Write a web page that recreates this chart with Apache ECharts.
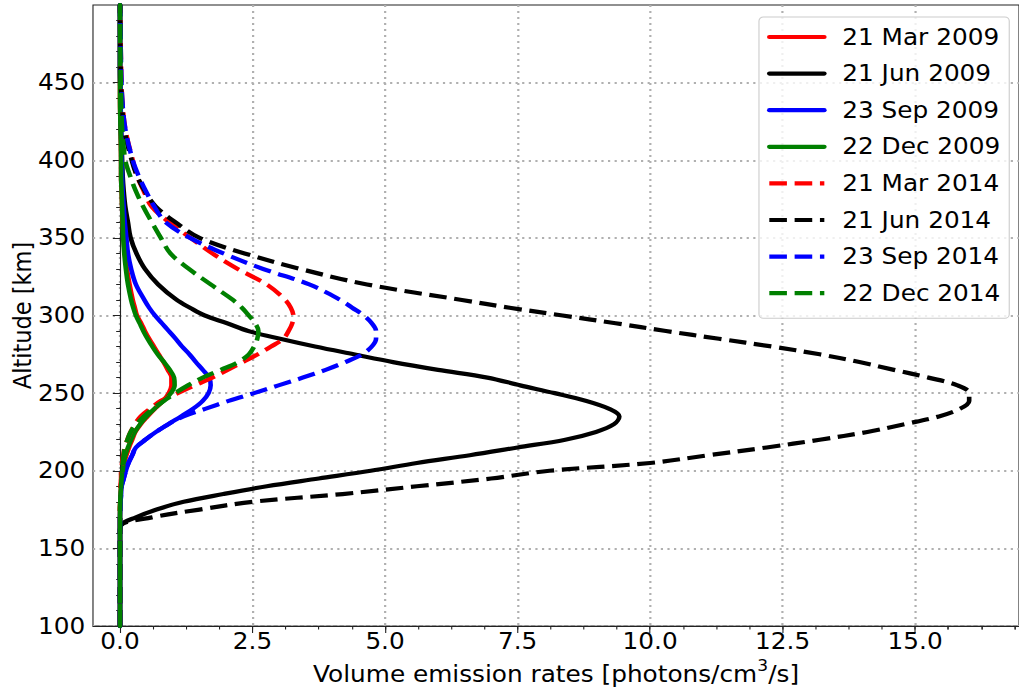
<!DOCTYPE html>
<html><head><meta charset="utf-8">
<script src="https://cdn.jsdelivr.net/npm/echarts@6/dist/echarts.min.js"></script>
<style>
html,body{margin:0;padding:0;background:#fff;overflow:hidden}
#c{width:926px;height:693px;transform:scaleX(1.10043);transform-origin:0 0}
</style>
</head><body><div id="c"></div>
<script>
// Altitude grid [km]
const ALT = [100,160,165,170,175,180,185,190,195,200,205,210,215,220,225,230,235,240,245,250,255,260,265,270,275,280,285,290,295,300,305,310,320,330,340,350,360,370,380,390,400,420,440,460,500];

// Volume emission rates [photons/cm3/s] at each altitude
const MAR09 = [0,0,0,0,0,0.005,0.01,0.02,0.03,0.06,0.08,0.12,0.17,0.23,0.29,0.39,0.52,0.66,0.81,0.92,0.97,0.97,0.9,0.82,0.73,0.64,0.55,0.47,0.4,0.32,0.28,0.24,0.18,0.13,0.09,0.07,0.05,0.04,0.03,0.02,0.02,0.01,0,0,0];
const JUN09 = [0,0,0.02,0.3,0.69,1.2,1.95,2.77,3.75,4.73,5.6,6.6,7.5,8.4,8.98,9.32,9.42,9.22,8.8,8.2,7.55,6.93,6.0,5.15,4.41,3.68,3.02,2.42,2.02,1.6,1.32,1.07,0.72,0.47,0.31,0.2,0.15,0.1,0.07,0.05,0.04,0.02,0.01,0,0];
const SEP09 = [0,0,0,0,0.005,0.01,0.02,0.03,0.07,0.11,0.16,0.23,0.3,0.48,0.68,0.91,1.15,1.38,1.56,1.67,1.71,1.68,1.56,1.43,1.31,1.17,1.05,0.92,0.79,0.66,0.55,0.46,0.3,0.21,0.15,0.12,0.09,0.07,0.05,0.04,0.03,0.02,0.01,0,0];
const DEC09 = [0,0,0,0,0,0.005,0.01,0.02,0.03,0.05,0.07,0.1,0.15,0.21,0.28,0.38,0.5,0.65,0.82,0.96,1.03,1.02,0.94,0.83,0.71,0.61,0.52,0.44,0.37,0.3,0.25,0.21,0.15,0.11,0.08,0.06,0.05,0.04,0.03,0.02,0.02,0.01,0,0,0];
const MAR14 = [0,0,0,0,0,0.005,0.01,0.01,0.02,0.02,0.04,0.06,0.09,0.14,0.2,0.28,0.39,0.57,0.77,1.09,1.41,1.74,2.03,2.32,2.6,2.85,3.08,3.18,3.25,3.27,3.22,3.12,2.77,2.22,1.74,1.33,0.93,0.6,0.45,0.32,0.24,0.1,0.04,0.02,0];
const JUN14 = [0,0,0.02,0.6,1.5,2.5,4.2,5.6,7.0,8.1,10.0,11.1,12.2,13.2,14.1,14.8,15.45,15.85,16.02,16.02,15.8,15.25,14.6,13.95,13.2,12.3,11.3,10.3,9.35,8.35,7.35,6.45,4.66,3.4,2.35,1.5,1.05,0.68,0.47,0.32,0.22,0.08,0.03,0.01,0];
const SEP14 = [0,0,0,0,0.005,0.01,0.02,0.03,0.07,0.11,0.16,0.23,0.3,0.48,0.68,0.91,1.2,1.62,2.05,2.53,2.99,3.45,3.88,4.25,4.57,4.75,4.83,4.83,4.75,4.6,4.38,4.16,3.57,2.7,1.95,1.32,0.86,0.65,0.49,0.35,0.24,0.1,0.04,0.02,0];
const DEC14 = [0,0,0,0,0,0.005,0.01,0.02,0.03,0.04,0.05,0.07,0.09,0.14,0.2,0.31,0.45,0.62,0.83,1.04,1.28,1.56,1.9,2.23,2.43,2.53,2.59,2.61,2.55,2.43,2.3,2.13,1.71,1.3,0.95,0.77,0.6,0.44,0.3,0.19,0.1,0.04,0.02,0.01,0];

const NAMES = ['21 Mar 2009','21 Jun 2009','23 Sep 2009','22 Dec 2009','21 Mar 2014','21 Jun 2014','23 Sep 2014','22 Dec 2014'];
const X_TICKS = [0,2.5,5,7.5,10,12.5,15];
const Y_TICKS = [100,150,200,250,300,350,400,450];

const X_MINOR = [];
for (let i = 0; i < X_TICKS.length; i++) {
  const step = 2.5 / 4;
  for (let k = 0; k < 4; k++) X_MINOR.push(X_TICKS[i] + k * step);
}
X_MINOR.push(15.625, 16.25, 16.875);

const FONT = 'DejaVu Sans';
const FS = 22.5;
const LW = 4.2;
const DASH = [16, 7];

function mk(name, xs, color, dashed) {
  return {
    name: name, type: 'line', xAxisIndex: 0, yAxisIndex: 0,
    data: ALT.map((a, i) => [xs[i], a]),
    symbol: 'none', showSymbol: false,
    smooth: 0.35,
    lineStyle: { color: color, width: LW, type: dashed ? DASH : 'solid', cap: dashed ? 'butt' : 'round', join: 'round' },
    itemStyle: { color: color },
    emphasis: { disabled: true },
    animation: false
  };
}

const chart = echarts.init(document.getElementById('c'), null, { renderer: 'svg' });
chart.setOption({
  animation: false,
  backgroundColor: '#ffffff',
  grid: { left: 84.5, top: 5, right: 0, height: 621, show: true, borderColor: '#222', borderWidth: 1, containLabel: false, outerBoundsMode: 'none' },
  xAxis: [{
    type: 'value', min: -0.51, max: 16.96,
    name: '{t|Volume emission rates [photons/cm}{s|3}{t|/s]}',
    nameLocation: 'middle', nameGap: 25,
    nameTextStyle: { rich: {
      t: { fontFamily: FONT, fontSize: FS, color: '#000', lineHeight: 28, verticalAlign: 'bottom' },
      s: { fontFamily: FONT, fontSize: 15.5, color: '#000', lineHeight: 28, verticalAlign: 'top' }
    } },
    axisLine: { show: true, lineStyle: { color: '#222', width: 1 } },
    axisTick: { show: true, length: 7, customValues: X_TICKS, lineStyle: { color: '#222', width: 1 } },
    axisLabel: { show: true, customValues: X_TICKS, margin: 4, fontFamily: FONT, fontSize: FS, color: '#000', formatter: v => v.toFixed(1) },
    splitLine: { show: true, lineStyle: { color: '#b0b0b0', width: 2, type: [2, 4] } },
    minorTick: { show: false }
  }, {
    type: 'value', min: -0.51, max: 16.96, position: 'bottom', gridIndex: 0,
    axisLine: { show: false },
    axisTick: { show: true, length: 3.5, customValues: X_MINOR, lineStyle: { color: '#222', width: 1 } },
    axisLabel: { show: false },
    splitLine: { show: false }
  }],
  yAxis: {
    type: 'value', min: 100, max: 500, interval: 50,
    name: 'Altitude [km]', nameLocation: 'middle', nameGap: 52, nameMoveOverlap: false,
    nameTextStyle: { fontFamily: FONT, fontSize: FS, color: '#000' },
    axisLine: { show: true, lineStyle: { color: '#222', width: 1 } },
    axisTick: { show: true, length: 6.5, customValues: Y_TICKS, lineStyle: { color: '#222', width: 1 } },
    axisLabel: { show: true, customValues: Y_TICKS, margin: 7, fontFamily: FONT, fontSize: FS, color: '#000' },
    minorTick: { show: true, splitNumber: 5, length: 3.5, lineStyle: { color: '#222', width: 1 } },
    splitLine: { show: true, lineStyle: { color: '#b0b0b0', width: 2, type: [2, 4] } }
  },
  legend: {
    orient: 'vertical', left: 689.7, top: 17,
    padding: [8, 8, 13, 7.3],
    itemWidth: 50, itemHeight: 14, itemGap: 12.6,
    backgroundColor: 'rgba(255,255,255,0.8)', borderColor: '#cccccc', borderWidth: 1, borderRadius: 4,
    selectedMode: false,
    textStyle: { fontFamily: FONT, fontSize: FS, color: '#000', lineHeight: 24, padding: [0, 0, 0, 11.3] },
    lineStyle: { width: LW },
    itemStyle: { color: 'rgba(0,0,0,0)', borderColor: 'rgba(0,0,0,0)', borderWidth: 0 },
    data: NAMES
  },
  series: [
    mk(NAMES[0], MAR09, '#ff0000', false),
    mk(NAMES[1], JUN09, '#000000', false),
    mk(NAMES[2], SEP09, '#0000ff', false),
    mk(NAMES[3], DEC09, '#008000', false),
    mk(NAMES[4], MAR14, '#ff0000', true),
    mk(NAMES[5], JUN14, '#000000', true),
    mk(NAMES[6], SEP14, '#0000ff', true),
    mk(NAMES[7], DEC14, '#008000', true)
  ]
});
</script>
</body></html>
